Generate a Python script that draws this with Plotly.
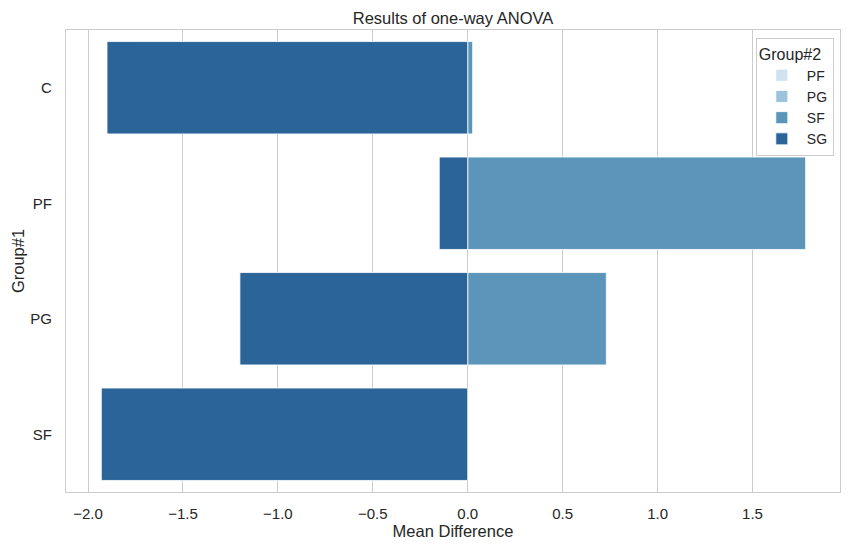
import plotly.graph_objects as go

groups1 = ["C", "PF", "PG", "SF"]
hue_levels = ["PF", "PG", "SF", "SG"]

# mean differences per Group#2 (hue), indexed by Group#1 (None = pair not present)
diff_PF = [-1.75, None, None, None]
diff_PG = [-0.70, 1.05, None, None]
diff_SF = [0.026, 1.78, 0.73, None]
diff_SG = [-1.90, -0.15, -1.20, -1.93]

series = {"PF": diff_PF, "PG": diff_PG, "SF": diff_SF, "SG": diff_SG}
colors = {"PF": "#d0e1f0", "PG": "#9cc3da", "SF": "#5b95ba", "SG": "#2b6499"}

x_ticks = [-2.0, -1.5, -1.0, -0.5, 0.0, 0.5, 1.0, 1.5]
x_tick_text = ["\u22122.0", "\u22121.5", "\u22121.0", "\u22120.5", "0.0", "0.5", "1.0", "1.5"]

fig = go.Figure()
for h in hue_levels:
    fig.add_trace(go.Bar(
        x=series[h], y=groups1, orientation="h", name=h,
        width=0.8,
        marker=dict(color=colors[h], line=dict(color="white", width=0.8)),
    ))

font_family = "Liberation Sans, Arial, sans-serif"
text_color = "#262626"

fig.update_layout(
    width=850, height=550,
    barmode="overlay",
    paper_bgcolor="white", plot_bgcolor="white",
    margin=dict(l=66, r=10, t=30, b=58, autoexpand=False),
    font=dict(family=font_family, color=text_color, size=15),
    title=dict(text="Results of one-way ANOVA", x=0.5, xref="paper", xanchor="center",
               y=1, yref="paper", yanchor="bottom", pad=dict(b=6),
               font=dict(size=16.5, color=text_color)),
    xaxis=dict(
        range=[-2.116, 1.961],
        tickvals=x_ticks, ticktext=x_tick_text,
        showgrid=True, gridcolor="#cccccc", gridwidth=1,
        zeroline=False,
        showline=True, linecolor="#cccccc", linewidth=1.25, mirror=True,
        ticks="", ticklabelstandoff=8,
        tickfont=dict(size=15),
        title=dict(text="Mean Difference", font=dict(size=16.5), standoff=4),
    ),
    yaxis=dict(
        type="category",
        categoryorder="array", categoryarray=groups1,
        range=[3.5, -0.5],
        showgrid=False, zeroline=False,
        showline=True, linecolor="#cccccc", linewidth=1.25, mirror=True,
        ticks="", ticklabelstandoff=10,
        tickfont=dict(size=15),
        title=dict(text="Group#1", font=dict(size=16.5), standoff=1),
    ),
    legend=dict(
        title=dict(text="Group#2", font=dict(size=16)),
        x=0.992, xanchor="right", y=0.983, yanchor="top",
        bordercolor="#cccccc", borderwidth=1, bgcolor="rgba(255,255,255,0.8)",
        font=dict(size=14), tracegroupgap=0, itemwidth=40,
    ),
    showlegend=True,
)

fig.write_html(
    "out.html",
    config={"displayModeBar": False},
    post_script="document.body.style.margin='0';document.body.style.padding='0';",
)
